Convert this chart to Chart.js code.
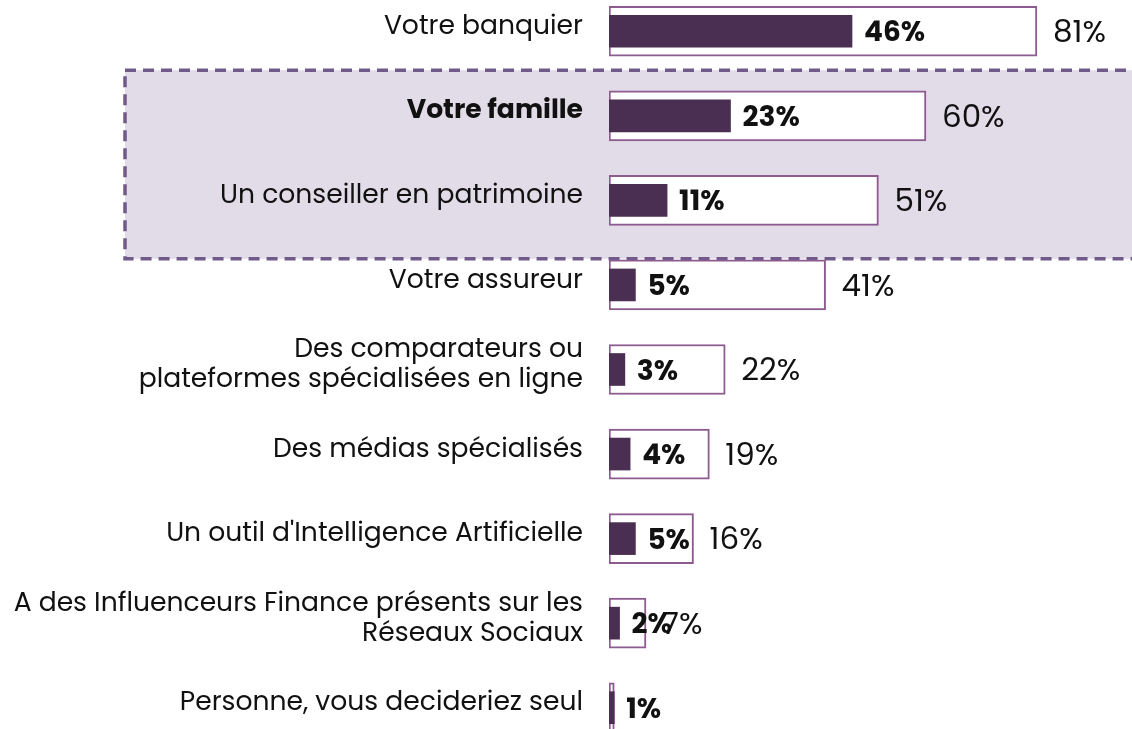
<!DOCTYPE html>
<html>
<head>
<meta charset="utf-8">
<script src="https://cdn.jsdelivr.net/npm/chart.js@4/dist/chart.umd.min.js"></script>
<style>
  html,body{margin:0;padding:0;background:#fff;overflow:hidden}
  #wrap{position:absolute;left:0;top:-11px;width:1132px;height:761px}
</style>
</head>
<body>
<div id="wrap"><canvas id="c"></canvas></div>
<script>
// categories (two-line labels as arrays)
const categories = [
  'Votre banquier',
  'Votre famille',
  'Un conseiller en patrimoine',
  'Votre assureur',
  ['Des comparateurs ou', 'plateformes spécialisées en ligne'],
  'Des médias spécialisés',
  "Un outil d'Intelligence Artificielle",
  ['A des Influenceurs Finance présents sur les', 'Réseaux Sociaux'],
  'Personne, vous decideriez seul'
];
// total (all mentions) and first-choice values, %
const totalVals = [81, 60, 51, 41, 22, 19, 16, 7, 1];
const firstVals = [46, 23, 11, 5, 3, 4, 5, 2, 1];
const highlightRows = [1, 2];

const FONT = 'Poppins, "Open Sans", Inter, sans-serif';
const DARK = '#4b2f52';
const EDGE = '#8d5b8f';

// dashed highlight band behind rows 1-2
const highlightBox = {
  id: 'highlightBox',
  beforeDraw(chart) {
    const { ctx } = chart;
    const y = chart.scales.y;
    const step = y.getPixelForValue(1) - y.getPixelForValue(0);
    const top = y.getPixelForValue(highlightRows[0]) - step * 0.54;
    const bot = y.getPixelForValue(highlightRows[1]) + step * 0.69;
    const left = 125;
    ctx.save();
    ctx.fillStyle = '#e2dbe8';
    ctx.fillRect(left, top, chart.width - left + 10, bot - top);
    ctx.strokeStyle = '#6f5a8a';
    ctx.lineWidth = 3.5;
    ctx.setLineDash([11, 7]);
    ctx.strokeRect(left, top, chart.width - left + 10, bot - top);
    ctx.restore();
  }
};

// value labels next to bars
const valueLabels = {
  id: 'valueLabels',
  afterDatasetsDraw(chart) {
    const { ctx } = chart;
    ctx.save();
    ctx.textBaseline = 'middle';
    ctx.textAlign = 'left';
    ctx.fillStyle = '#111';
    const outer = chart.getDatasetMeta(0).data;
    const inner = chart.getDatasetMeta(1).data;
    outer.forEach((bar, i) => {
      if (i === outer.length - 1) return;
      ctx.font = '400 31px ' + FONT;
      ctx.fillText(totalVals[i] + '%', bar.x + 16, bar.y + 3);
    });
    inner.forEach((bar, i) => {
      ctx.font = '700 28px ' + FONT;
      ctx.fillText(firstVals[i] + '%', bar.x + 12, bar.y + 3);
    });
    ctx.restore();
  }
};

new Chart(document.getElementById('c'), {
  type: 'bar',
  data: {
    labels: categories,
    datasets: [
      {
        label: 'Total',
        data: totalVals,
        backgroundColor: '#fff',
        borderColor: EDGE,
        borderWidth: 2,
        borderSkipped: false,
        barThickness: 50,
        grouped: false,
        order: 1
      },
      {
        label: 'En premier',
        data: firstVals,
        backgroundColor: DARK,
        borderWidth: 0,
        barThickness: 32,
        grouped: false,
        order: 0
      }
    ]
  },
  options: {
    indexAxis: 'y',
    responsive: true,
    maintainAspectRatio: false,
    animation: false,
    layout: { padding: 0 },
    plugins: { legend: { display: false }, tooltip: { enabled: false } },
    scales: {
      x: { display: false, min: 0, max: 99, grid: { display: false } },
      y: {
        grid: { display: false },
        border: { display: false },
        afterFit: s => { s.width = 609; s.paddingTop = 0; s.paddingBottom = 0; },
        ticks: {
          padding: 18,
          labelOffset: -4,
          color: '#111',
          font: c => ({ family: FONT, size: 26.6, weight: c.index === 1 ? '700' : '400', lineHeight: 1.13 })
        }
      }
    }
  },
  plugins: [highlightBox, valueLabels]
});
</script>
</body>
</html>
